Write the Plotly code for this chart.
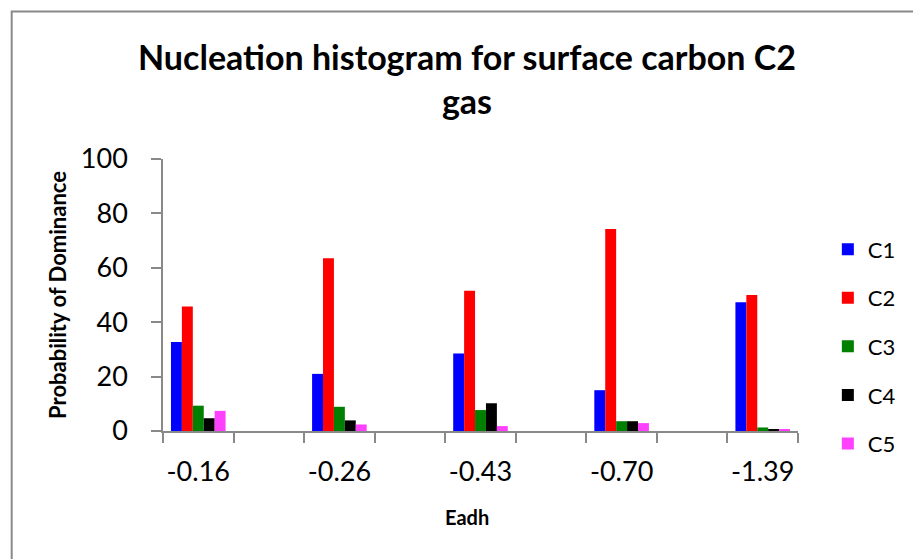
import plotly.graph_objects as go

# Adhesion energy categories (x-axis tick labels)
eadh_labels = ["-0.16", "-0.26", "-0.43", "-0.70", "-1.39"]

# Probability of dominance for each cluster size
c1 = [32.7, 21.0, 28.5, 15.0, 47.3]
c2 = [45.8, 63.5, 51.6, 74.3, 50.0]
c3 = [9.3, 8.9, 7.7, 3.6, 1.3]
c4 = [4.7, 3.9, 10.2, 3.6, 0.4]
c5 = [7.4, 2.4, 1.8, 2.9, 0.7]

series_names = ["C1", "C2", "C3", "C4", "C5"]
series_values = [c1, c2, c3, c4, c5]
series_colors = ["#0000FF", "#FF0000", "#008000", "#000000", "#FF40FF"]

FONT = "Lato"
GRAY = "#898989"

# groups sit on every other slot of a 9-slot axis
xpos = [2 * i for i in range(len(eadh_labels))]

fig = go.Figure()
for name, vals, col in zip(series_names, series_values, series_colors):
    fig.add_trace(go.Bar(
        x=xpos, y=vals, name=name, legendgroup=name,
        marker=dict(color=col, line=dict(width=0)),
    ))

fig.update_layout(
    width=913, height=559,
    margin=dict(l=163, r=110, t=159, b=128),
    paper_bgcolor="white", plot_bgcolor="white",
    barmode="group", bargap=0.613, bargroupgap=0,
    font=dict(family=FONT, color="black"),
    title=dict(
        text="<b>Nucleation histogram for surface carbon C2<br>gas</b>",
        font=dict(family=FONT, size=34, color="black"),
        x=0.5115, xanchor="center", xref="container",
        y=1 - 70 / 559, yanchor="middle", yref="container",
    ),
    legend=dict(
        x=1.047, xanchor="left", y=0.745, yanchor="top",
        font=dict(family=FONT, size=22, color="black"),
        tracegroupgap=17, bgcolor="rgba(0,0,0,0)",
    ),
    xaxis=dict(
        range=[-0.5, 8.5], showgrid=False, zeroline=False,
        showline=True, linecolor=GRAY, linewidth=1.5,
        tickmode="array", tickvals=xpos, ticktext=eadh_labels,
        ticks="", ticklabelstandoff=16,
        tickfont=dict(family=FONT, size=27, color="black"),
        minor=dict(ticks="outside", tick0=-0.5, dtick=1, ticklen=10,
                   tickcolor=GRAY, tickwidth=1.5, showgrid=False),
    ),
    yaxis=dict(
        range=[0, 100], dtick=20, showgrid=False, zeroline=False,
        showline=True, linecolor=GRAY, linewidth=1.5,
        ticks="outside", ticklen=10, tickcolor=GRAY, tickwidth=1.5,
        ticklabelstandoff=18,
        tickfont=dict(family=FONT, size=27, color="black"),
        title=dict(text="<b>Probability of Dominance</b>", standoff=8,
                   font=dict(family=FONT, size=22, color="black")),
    ),
    annotations=[dict(
        text="<b>Eadh</b>", xref="paper", yref="paper",
        x=0.478, y=(431 - 517) / 272, xanchor="center", yanchor="middle",
        showarrow=False, font=dict(family=FONT, size=20, color="black"),
    )],
    shapes=[dict(
        type="rect", xref="paper", yref="paper",
        x0=(10.5 - 163) / 640, x1=(925 - 163) / 640,
        y0=(431 - 575) / 272, y1=(431 - 11.5) / 272,
        line=dict(color=GRAY, width=2), fillcolor="rgba(0,0,0,0)",
        layer="below",
    )],
)

fig.write_html("out.html")
